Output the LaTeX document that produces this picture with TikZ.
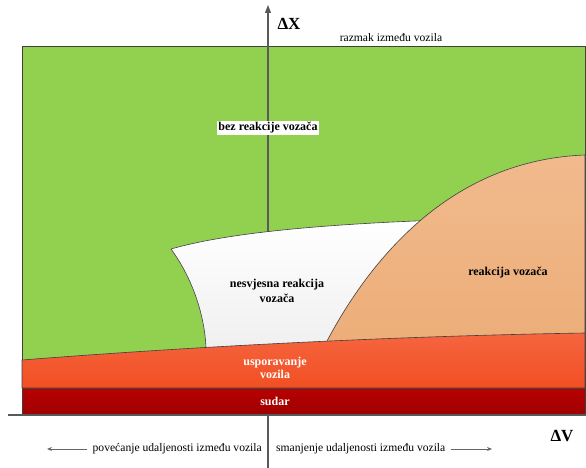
\documentclass[tikz,border=0pt]{standalone}
\usepackage{fontspec}
\setmainfont{Liberation Serif}
\usetikzlibrary{arrows.meta}

\definecolor{grass}{HTML}{92D050}
\definecolor{peachtop}{HTML}{F1BA8D}
\definecolor{peachbot}{HTML}{ECAC76}
\definecolor{braketop}{HTML}{F5653F}
\definecolor{brakebot}{HTML}{F24F22}
\definecolor{crashtop}{HTML}{B80000}
\definecolor{crashbot}{HTML}{9E0000}
\definecolor{edge}{HTML}{404040}

\tikzset{
  zone/.style={draw=edge, line width=0.6pt},
  axis/.style={draw=black!65, line width=1.3pt},
  lbl/.style={font=\fontsize{12}{15}\selectfont\bfseries, align=center, inner sep=1pt},
  note/.style={font=\fontsize{11.6}{13}\selectfont, inner sep=1pt},
  big/.style={font=\fontsize{17}{18}\selectfont\bfseries, inner sep=0pt},
  pointer/.style={draw=black!60, line width=0.8pt, -{Stealth[length=5pt,width=4pt]}}
}

\begin{document}
\begin{tikzpicture}[x=1pt,y=-1pt]
  \useasboundingbox (0,0) rectangle (586,468);

  % field of no reaction
  \draw[zone, fill=grass] (22,46) rectangle (585,415);

  % vertical axis
  \coordinate (ybot) at (268,468);
  \coordinate (ytop) at (268,5);
  \draw[axis, -{Triangle[length=8pt,width=6pt]}] (ybot) -- (ytop);

  % unconscious reaction
  \draw[zone, top color=white, bottom color=black!7]
    (171,249) .. controls (230,232) and (330,224) .. (440,220)
    -- (440,370) -- (200,370) -- (206,347)
    .. controls (204,310) and (190,275) .. (171,249);

  % driver reaction
  \draw[zone, top color=peachtop, bottom color=peachbot]
    (327,341) .. controls (370,260) and (450,160) .. (585,155)
    -- (585,370) -- (320,370) -- cycle;

  % braking
  \draw[zone, top color=braketop, bottom color=brakebot]
    (22,360) .. controls (200,346) and (400,336) .. (585,333)
    -- (585,388) -- (22,388) -- cycle;

  % crash
  \draw[zone, top color=crashtop, bottom color=crashbot] (22,388) rectangle (585,415);

  % horizontal axis
  \coordinate (xl) at (8,415);
  \coordinate (xr) at (586,415);
  \draw[axis] (xl) -- (xr);

  \node[big] (dx) at (289,24) {ΔX};
  \node[big] (dv) at (562,436) {ΔV};
  \node[note] (gap) at (391,38) {razmak između vozila};

  \node[lbl, fill=white] (none) at (268,128) {bez reakcije vozača};
  \node[lbl] (uncon) at (277,291) {nesvjesna reakcija\\vozača};
  \node[lbl] (react) at (508,273) {reakcija vozača};
  \node[lbl, text=white, font=\fontsize{12}{13}\selectfont\bfseries] (brake) at (275,368) {usporavanje\\vozila};
  \node[lbl, text=white] (crash) at (275,401) {sudar};

  \node[note, anchor=east] (inc) at (263,449) {povećanje udaljenosti između vozila};
  \node[note, anchor=west] (dec) at (275,449) {smanjenje udaljenosti između vozila};
  \coordinate (incend) at (47,449);
  \coordinate (decend) at (492,449);
  \draw[pointer] ([xshift=-4pt]inc.west) -- (incend);
  \draw[pointer] ([xshift=4pt]dec.east) -- (decend);
\end{tikzpicture}
\end{document}
